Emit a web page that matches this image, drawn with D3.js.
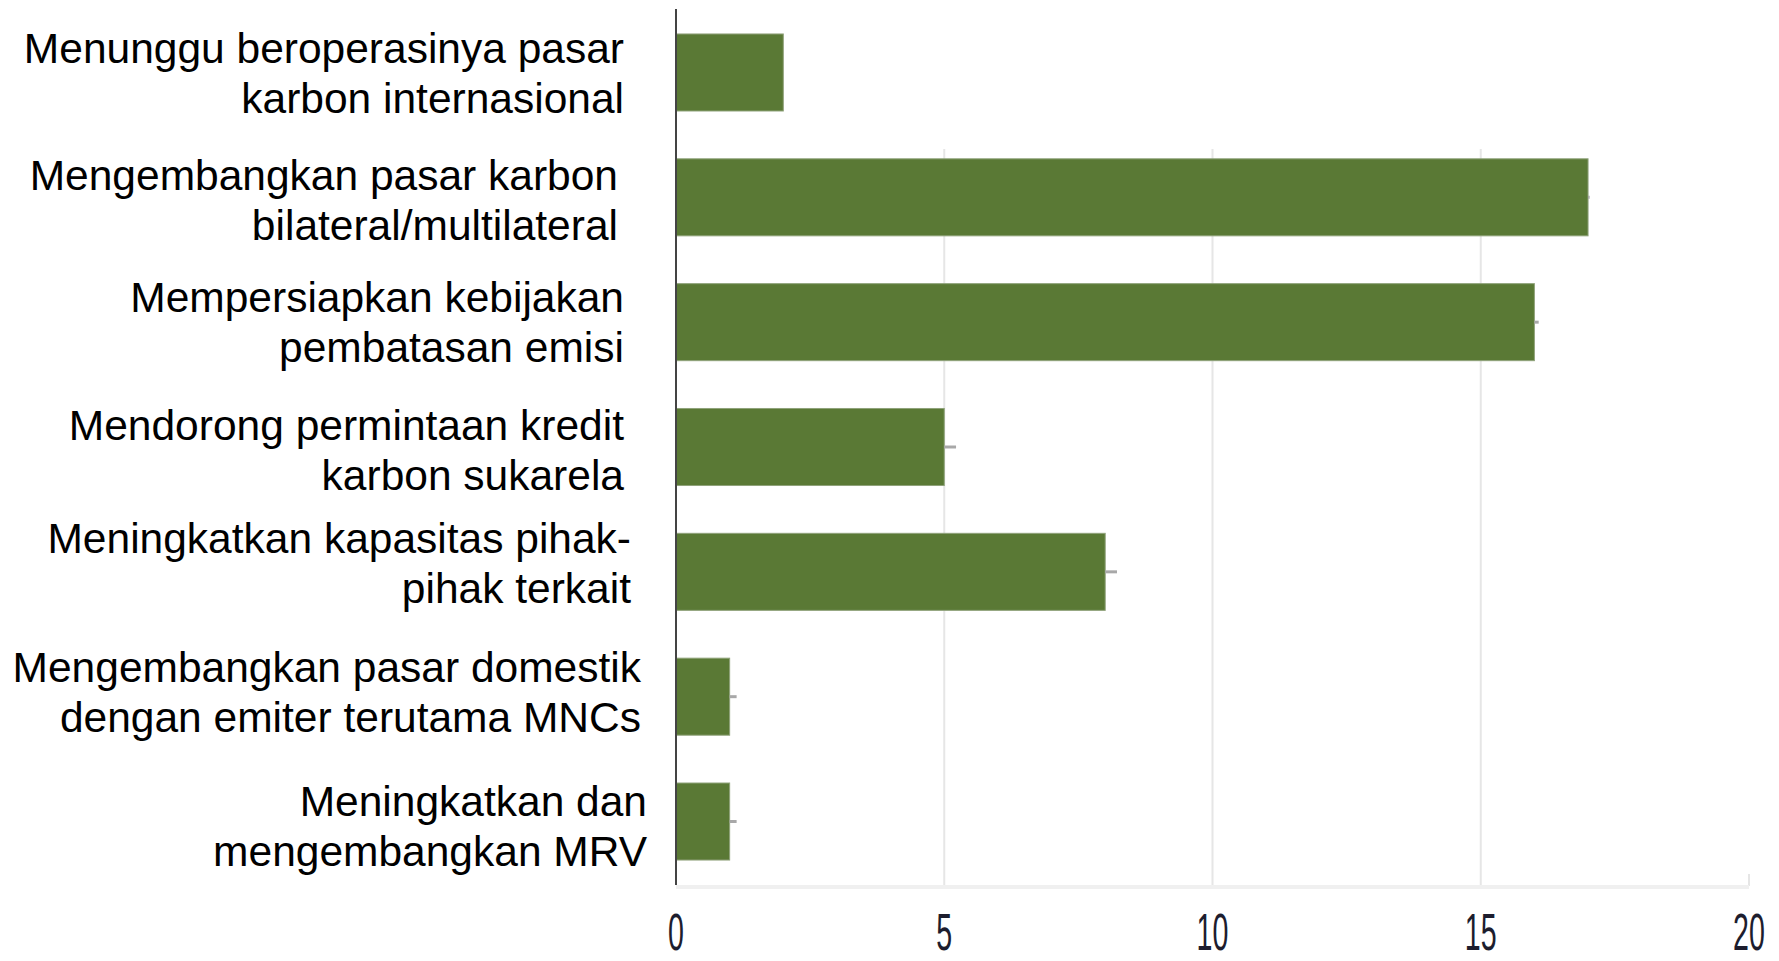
<!DOCTYPE html>
<html>
<head>
<meta charset="utf-8">
<script src="https://cdn.jsdelivr.net/npm/d3@7"></script>
<style>
  body { margin: 0; background: #fff; }
  svg { display: block; font-family: "Liberation Sans", Arial, sans-serif; }
</style>
</head>
<body>
<div id="chart"></div>
<script>
// data
var categories = [
    ["Menunggu beroperasinya pasar", "karbon internasional"],
    ["Mengembangkan pasar karbon", "bilateral/multilateral"],
    ["Mempersiapkan kebijakan", "pembatasan emisi"],
    ["Mendorong permintaan kredit", "karbon sukarela"],
    ["Meningkatkan kapasitas pihak-", "pihak terkait"],
    ["Mengembangkan pasar domestik", "dengan emiter terutama MNCs"],
    ["Meningkatkan dan", "mengembangkan MRV"]
];
var values = [2, 17, 16, 5, 8, 1, 1];
// the little grey stubs past the bar ends
var errors = [0, 0.03, 0.08, 0.22, 0.22, 0.13, 0.13];
var xTicks = [0, 5, 10, 15, 20];

function init() {

    var w = 1779;
    var h = 961;

    // layout nudges for the label blocks (right edge, vertical shift)
    var labelRight = [624, 618, 624, 624, 631, 641, 647];
    var labelShift = [1, 3, 0, 3, -9, -5, 4];

    var svg = d3.select("#chart")
                .append("svg")
                .attr("width", w)
                .attr("height", h);

    var x = d3.scaleLinear()
              .domain([0, 20])
              .range([676, 1749]);

    var y = d3.scaleBand()
              .domain(d3.range(values.length))
              .range([9, 885])
              .paddingInner(0.383)
              .paddingOuter(0.2);

    // gridlines
    svg.selectAll("line.grid")
       .data(xTicks.slice(1))
       .enter()
       .append("line")
       .attr("class", "grid")
       .attr("x1", function(d) { return x(d); })
       .attr("x2", function(d) { return x(d); })
       .attr("y1", function(d) { return d == 20 ? 874 : 149; })
       .attr("y2", 886)
       .style("stroke", "#e6e6e6")
       .style("stroke-width", 2);

    // faint bottom rule
    svg.append("line")
       .attr("x1", x(0))
       .attr("x2", x(20))
       .attr("y1", 887)
       .attr("y2", 887)
       .style("stroke", "#f0f0f0")
       .style("stroke-width", 4);

    // bars
    svg.selectAll("rect.bar")
       .data(values)
       .enter()
       .append("rect")
       .attr("class", "bar")
       .attr("x", x(0))
       .attr("y", function(d, i) { return y(i); })
       .attr("width", function(d) { return x(d) - x(0); })
       .attr("height", y.bandwidth())
       .style("fill", "#5a7935")
       .style("stroke", "#8fa27a")
       .style("stroke-width", 1);

    // error stubs
    svg.selectAll("line.err")
       .data(values)
       .enter()
       .append("line")
       .attr("class", "err")
       .attr("x1", function(d) { return x(d); })
       .attr("x2", function(d, i) { return x(d + errors[i]); })
       .attr("y1", function(d, i) { return y(i) + y.bandwidth() / 2; })
       .attr("y2", function(d, i) { return y(i) + y.bandwidth() / 2; })
       .style("stroke", "#a8a8a8")
       .style("stroke-width", 3);

    // y axis line
    svg.append("line")
       .attr("x1", x(0))
       .attr("x2", x(0))
       .attr("y1", 9)
       .attr("y2", 885)
       .style("stroke", "#444")
       .style("stroke-width", 2);

    // category labels, two lines each
    var lab = svg.selectAll("text.cat")
                 .data(categories)
                 .enter()
                 .append("text")
                 .attr("class", "cat")
                 .attr("text-anchor", "end")
                 .style("font-size", "42.5px")
                 .style("fill", "#000");

    lab.each(function(d, i) {
        var c = y(i) + y.bandwidth() / 2 + labelShift[i];
        var t = d3.select(this);
        d.forEach(function(line, k) {
            t.append("tspan")
             .attr("x", labelRight[i])
             .attr("y", c - 25 + k * 50 + 15)
             .text(line);
        });
    });

    // x tick labels (tall, squeezed digits)
    svg.selectAll("text.tick")
       .data(xTicks)
       .enter()
       .append("text")
       .attr("class", "tick")
       .attr("text-anchor", "middle")
       .attr("transform", function(d) {
           return "translate(" + x(d) + ",950) scale(0.55,1)";
       })
       .style("font-size", "52px")
       .style("fill", "#1d1d2e")
       .text(function(d) { return d; });
}

window.onload = init;
</script>
</body>
</html>
